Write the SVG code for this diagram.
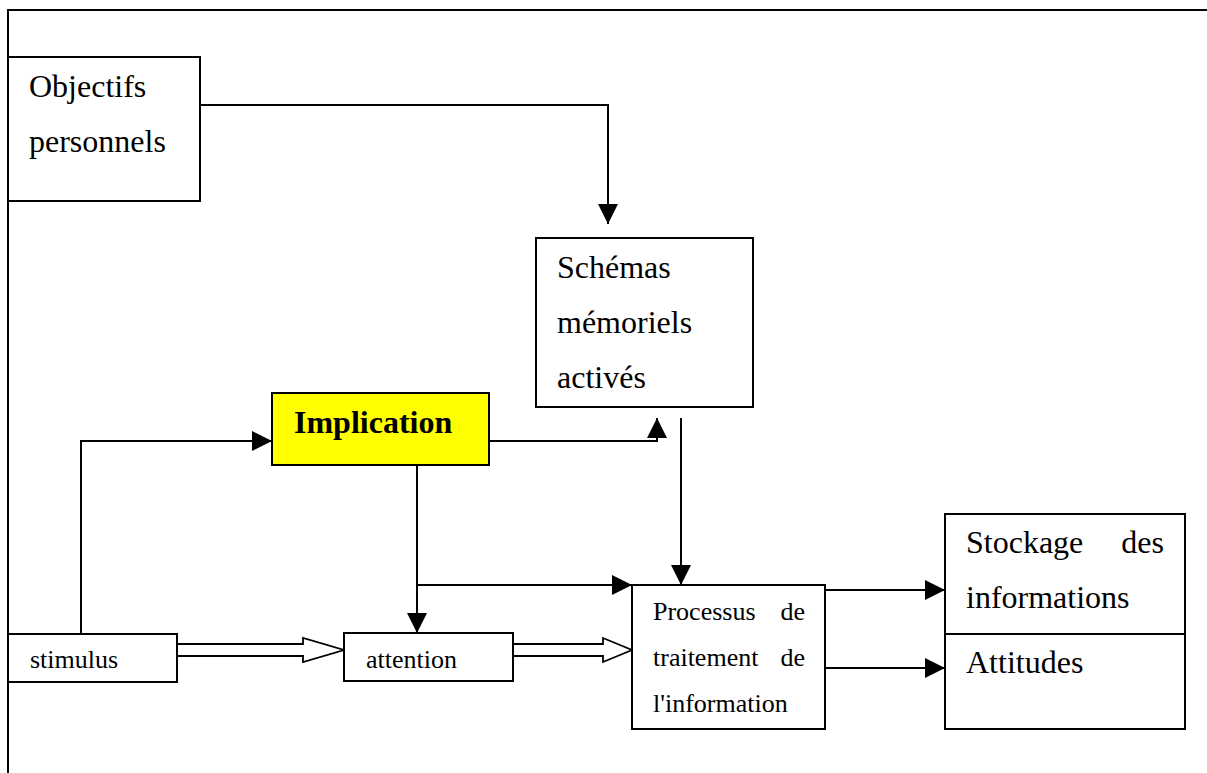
<svg xmlns="http://www.w3.org/2000/svg" width="1207" height="773" viewBox="0 0 1207 773">
<style>
.box{fill:#fff;stroke:#000;stroke-width:2}
.t{font-family:"Liberation Serif","Times New Roman",serif;fill:#000}
.big{font-size:32px}
.sm{font-size:26px}
.c{fill:none;stroke:#000;stroke-width:2}
.hollow{fill:#fff;stroke:#000;stroke-width:1.8;stroke-linejoin:miter}
</style>
<defs>
<marker id="ah" viewBox="0 0 20 20" refX="20" refY="10" markerWidth="20" markerHeight="20" markerUnits="userSpaceOnUse" orient="auto">
<path d="M0,0 L20,10 L0,20 z" fill="#000"/>
</marker>
</defs>
<rect width="1207" height="773" fill="#fff"/>
<path d="M8,773 V10 H1207" fill="none" stroke="#000" stroke-width="2"/>

<g id="connectors">
<path class="c" d="M200,105 H608 V224" marker-end="url(#ah)"/>
<path class="c" d="M489,441 H657 V418" marker-end="url(#ah)"/>
<path class="c" d="M681,418 V585" marker-end="url(#ah)"/>
<path class="c" d="M81,634 V441 H272" marker-end="url(#ah)"/>
<path class="c" d="M417,465 V633" marker-end="url(#ah)"/>
<path class="c" d="M417,585 H632" marker-end="url(#ah)"/>
<path class="c" d="M825,590 H945" marker-end="url(#ah)"/>
<path class="c" d="M825,668 H945" marker-end="url(#ah)"/>
<polygon class="hollow" points="177,644 303,644 303,638 344,650 303,662 303,656 177,656"/>
<polygon class="hollow" points="513,644 603,644 603,638 632,650 603,662 603,656 513,656"/>
</g>

<g id="objectifs">
<rect class="box" x="8" y="57" width="192" height="144"/>
<text class="t big" x="29" y="97">Objectifs</text>
<text class="t big" x="29" y="152">personnels</text>
</g>

<g id="schemas">
<rect class="box" x="536" y="238" width="217" height="169"/>
<text class="t big" x="557" y="278">Schémas</text>
<text class="t big" x="557" y="333">mémoriels</text>
<text class="t big" x="557" y="388">activés</text>
</g>

<g id="implication">
<rect x="272" y="393" width="217" height="72" fill="#ffff00" stroke="#000" stroke-width="2"/>
<text class="t big" x="294" y="433" font-weight="bold">Implication</text>
</g>

<g id="stimulus">
<rect class="box" x="8" y="634" width="169" height="48"/>
<text class="t sm" x="30" y="668">stimulus</text>
</g>

<g id="attention">
<rect class="box" x="344" y="633" width="169" height="48"/>
<text class="t sm" x="366" y="668">attention</text>
</g>

<g id="processus">
<rect class="box" x="632" y="585" width="193" height="144"/>
<text class="t sm" x="653" y="620">Processus</text>
<text class="t sm" x="805" y="620" text-anchor="end">de</text>
<text class="t sm" x="653" y="666">traitement</text>
<text class="t sm" x="805" y="666" text-anchor="end">de</text>
<text class="t sm" x="653" y="712">l'information</text>
</g>

<g id="stockage">
<rect class="box" x="945" y="514" width="240" height="120"/>
<text class="t big" x="966" y="553">Stockage</text>
<text class="t big" x="1164" y="553" text-anchor="end">des</text>
<text class="t big" x="966" y="608">informations</text>
</g>

<g id="attitudes">
<rect class="box" x="945" y="634" width="240" height="95"/>
<text class="t big" x="966" y="673">Attitudes</text>
</g>
</svg>
